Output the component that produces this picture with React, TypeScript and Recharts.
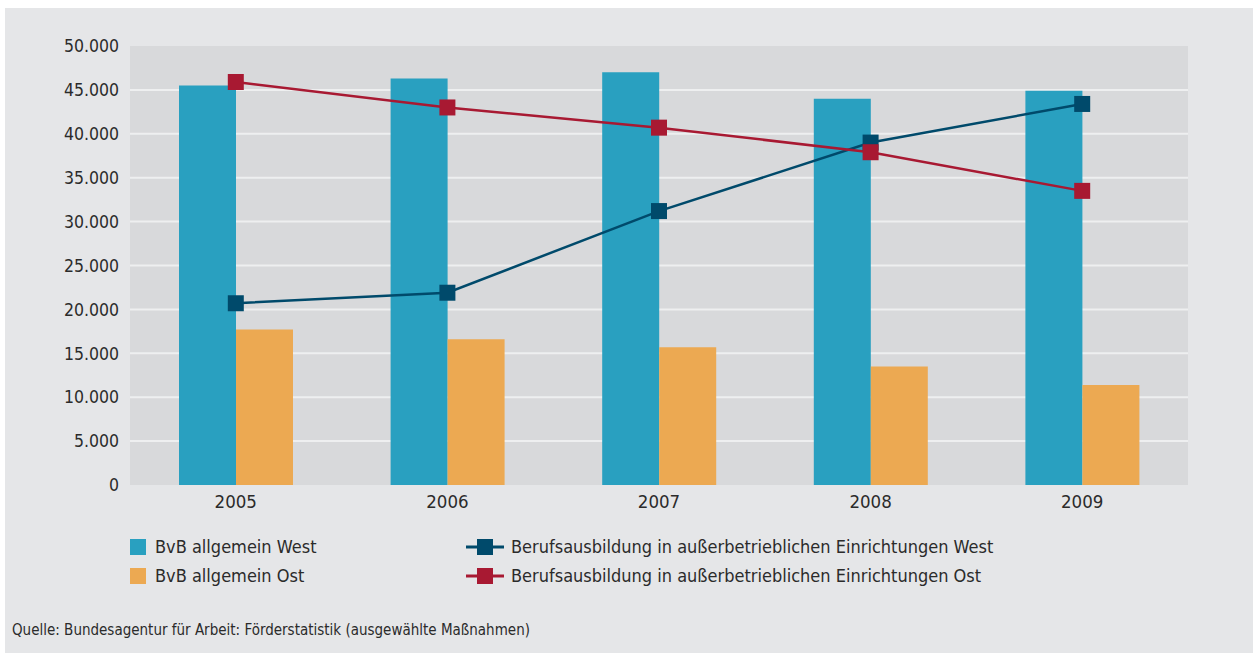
import { useLayoutEffect } from 'react';
import { ComposedChart, Bar, Line, XAxis, YAxis, CartesianGrid } from 'recharts';

const years = ['2005', '2006', '2007', '2008', '2009'];
const bvbWest = [45500, 46300, 47000, 44000, 44900];
const bvbOst = [17700, 16600, 15700, 13500, 11400];
const baeWest = [20700, 21900, 31200, 39000, 43400];
const baeOst = [45900, 43000, 40700, 37900, 33500];
const yTicks = [0, 5000, 10000, 15000, 20000, 25000, 30000, 35000, 40000, 45000, 50000];

const FONT = "'Liberation Sans Narrow', 'DejaVu Sans Condensed', 'Open Sans', sans-serif";
const TEXT = '#2b2b2b';
const BLUE = '#29a0c0';
const ORANGE = '#eca952';
const TEAL = '#004a6b';
const RED = '#a81932';

const data = years.map((year, i) => ({
  year,
  bvbWest: bvbWest[i],
  bvbOst: bvbOst[i],
  baeWest: baeWest[i],
  baeOst: baeOst[i],
}));

const fmt = (v: number) => String(v).replace(/\B(?=(\d{3})+(?!\d))/g, '.');

const SquareDot = (color: string) => (props: any) => {
  const { cx, cy, index } = props;
  if (cx == null || cy == null) return <g key={index} />;
  return <rect key={index} x={cx - 8} y={cy - 8} width={16} height={16} fill={color} />;
};

const legendLeft = [
  { name: 'BvB allgemein West', color: BLUE },
  { name: 'BvB allgemein Ost', color: ORANGE },
];
const legendRight = [
  { name: 'Berufsausbildung in außerbetrieblichen Einrichtungen West', color: TEAL },
  { name: 'Berufsausbildung in außerbetrieblichen Einrichtungen Ost', color: RED },
];

export default function App() {
  useLayoutEffect(() => {
    document.body.style.margin = '0';
    document.body.style.background = '#fff';
  }, []);

  return (
    <div style={{ paddingTop: 8, paddingLeft: 5 }}>
      <div
        style={{
          position: 'relative',
          width: 1248,
          height: 645,
          background: '#e5e6e8',
          fontFamily: FONT,
          color: TEXT,
        }}
      >
        <ComposedChart
          width={1248}
          height={520}
          data={data}
          margin={{ top: 38, right: 65, bottom: 0, left: 0 }}
          barGap={0}
        >
          <CartesianGrid
            vertical={false}
            fill="#d8d9db"
            stroke="#eeeff0"
            strokeWidth={2}
            horizontalValues={yTicks.slice(1, -1)}
          />
          <XAxis
            dataKey="year"
            axisLine={false}
            tickLine={false}
            height={43}
            tickMargin={4}
            tick={{ fill: TEXT, fontSize: 18.5, fontFamily: FONT }}
          />
          <YAxis
            domain={[0, 50000]}
            ticks={yTicks}
            width={125}
            axisLine={false}
            tickLine={false}
            tickMargin={5}
            tickFormatter={fmt}
            tick={{ fill: TEXT, fontSize: 17.5, fontFamily: FONT }}
          />
          <Bar dataKey="bvbWest" fill={BLUE} barSize={57} isAnimationActive={false} />
          <Bar dataKey="bvbOst" fill={ORANGE} barSize={57} isAnimationActive={false} />
          <Line
            dataKey="baeWest"
            stroke={TEAL}
            strokeWidth={2.5}
            dot={SquareDot(TEAL)}
            activeDot={false}
            isAnimationActive={false}
          />
          <Line
            dataKey="baeOst"
            stroke={RED}
            strokeWidth={2.5}
            dot={SquareDot(RED)}
            activeDot={false}
            isAnimationActive={false}
          />
        </ComposedChart>
        <div style={{ position: 'absolute', left: 125, top: 524, fontSize: 18, lineHeight: '29px' }}>
          {legendLeft.map((it) => (
            <div key={it.name} style={{ display: 'flex', alignItems: 'center' }}>
              <span style={{ display: 'inline-block', width: 16, height: 16, background: it.color, marginRight: 9 }} />
              {it.name}
            </div>
          ))}
        </div>
        <div style={{ position: 'absolute', left: 461, top: 524, fontSize: 18, lineHeight: '29px' }}>
          {legendRight.map((it) => (
            <div key={it.name} style={{ display: 'flex', alignItems: 'center' }}>
              <svg width={38} height={16} style={{ marginRight: 7 }}>
                <line x1={0} y1={8} x2={38} y2={8} stroke={it.color} strokeWidth={3} />
                <rect x={11} y={0} width={16} height={16} fill={it.color} />
              </svg>
              {it.name}
            </div>
          ))}
        </div>
        <div style={{ position: 'absolute', left: 7, top: 613, fontSize: 15 }}>
          Quelle: Bundesagentur für Arbeit: Förderstatistik (ausgewählte Maßnahmen)
        </div>
      </div>
    </div>
  );
}
